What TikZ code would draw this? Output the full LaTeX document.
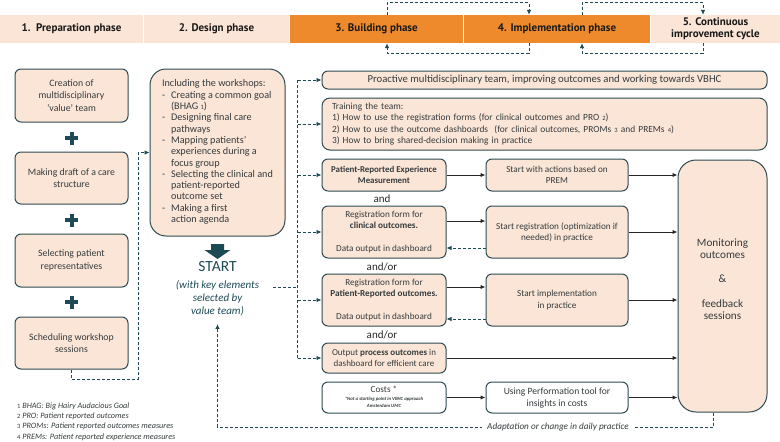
\documentclass[tikz,border=0pt]{standalone}
\usepackage{fontspec}
\setmainfont{Carlito}
\newfontfamily\hdrfont{PT Sans}
\usetikzlibrary{calc,arrows.meta}
\definecolor{peach}{HTML}{FBE5D6}
\definecolor{orng}{HTML}{EE8A2C}
\definecolor{bord}{HTML}{2D4B52}
\definecolor{teal}{HTML}{1E4A55}
\definecolor{txt}{HTML}{353B3D}
\newcommand{\fnum}[1]{{\upshape\fontsize{6.5}{6.5}\selectfont #1}}
\newcommand{\tinyf}{\fontsize{4.8}{6}\selectfont\bfseries\itshape}
\begin{document}
\begin{tikzpicture}[x=1pt,y=-1pt,
  phase/.style={inner sep=0pt, minimum height=28pt, align=center, font=\hdrfont\bfseries\fontsize{11}{12}\selectfont, text=black!90},
  box/.style={draw=bord, line width=1pt, fill=peach, rounded corners=6pt, align=center, inner sep=2pt, text=txt, font=\fontsize{9.2}{11.2}\selectfont},
  arr/.style={-{Latex[length=5pt,width=4.5pt]}, line width=1pt, draw=black!85},
  darr/.style={-{Latex[length=5pt,width=4.5pt]}, line width=0.8pt, draw=teal, dash pattern=on 3pt off 2pt},
  dln/.style={line width=0.8pt, draw=teal, dash pattern=on 3pt off 2pt},
  lbl/.style={inner sep=1pt, text=black!85}
]
\useasboundingbox (0,0) rectangle (780,442);

% ---------- header ----------
\node[phase, fill=peach, minimum width=143pt] (p1) at (71.5,29) {1.\ \ Preparation phase};
\node[phase, fill=peach, minimum width=145pt] (p2) at (216.5,29) {2. Design phase};
\node[phase, fill=orng, minimum width=173pt] (p3) at (376.5,29) {3. Building phase};
\node[phase, fill=orng, minimum width=186pt] (p4) at (557,29) {4. Implementation phase};
\node[phase, fill=peach, minimum width=129pt] (p5) at (715.5,29) {5. Continuous\\improvement cycle};

\draw[darr] ([xshift=10.5pt]p3.north) -- ++(0pt,12pt) -| ([xshift=-28pt]p4.north);
\draw[darr] ([xshift=-28pt]p4.south) -- ++(0pt,-10pt) -| ([xshift=10.5pt]p3.south);
\draw[darr] ([xshift=25pt]p4.north) -- ++(0pt,12pt) -| ([xshift=-12.5pt]p5.north);
\draw[darr] ([xshift=-12.5pt]p5.south) -- ++(0pt,-10pt) -| ([xshift=25pt]p4.south);

% ---------- preparation column ----------
\tikzset{lbox/.style={box, minimum width=113pt, font=\fontsize{9.8}{12.5}\selectfont}}
\node[lbox, minimum height=53pt] (l1) at (71.5,95.5) {Creation of\\multidisciplinary\\‘value’ team};
\node[lbox, minimum height=52pt] (l2) at (71.5,178) {Making draft of a care\\structure};
\node[lbox, minimum height=53pt] (l3) at (71.5,260.5) {Selecting patient\\representatives};
\node[lbox, minimum height=52pt] (l4) at (71.5,343) {Scheduling workshop\\sessions};
\foreach \yy in {138,220,302}{
  \fill[teal] (65,\yy-2) rectangle (78,\yy+2);
  \fill[teal] (69.5,\yy-6.5) rectangle (73.5,\yy+6.5);
}

% ---------- design column ----------
\node[box, minimum width=135pt, minimum height=167pt, rounded corners=16pt, font=\fontsize{10.2}{11.3}\selectfont] (des) at (217.5,152.5)
{\begin{tabular}{@{}l@{\hspace{6pt}}l@{}}
\multicolumn{2}{@{}l@{}}{Including the workshops:}\\
- & Creating a common goal\\
  & (BHAG \fnum{1})\\
- & Designing final care\\
  & pathways\\
- & Mapping patients’\\
  & experiences during a\\
  & focus group\\
- & Selecting the clinical and\\
  & patient-reported\\
  & outcome set\\
- & Making a first\\
  & action agenda
\end{tabular}};

\coordinate (lc) at (138,379);
\draw[darr] (l4.south) |- (lc) |- (des.west);

\fill[teal] (211,244) -- (224,244) -- (224,250) -- (230.5,250) -- (217.5,259) -- (204.5,250) -- (211,250) -- cycle;
\node[text=teal, font=\fontsize{15.5}{15.5}\selectfont, inner sep=0pt] (start) at (217.5,267) {START};
\node[text=teal, font=\itshape\fontsize{11}{13}\selectfont, align=center, inner sep=1pt] (sel) at (217.5,298) {(with key elements\\selected by\\value team)};

% ---------- building column ----------
\node[box, minimum width=445pt, minimum height=18pt, inner sep=0pt, font=\fontsize{10.7}{11}\selectfont] (proact) at (544.5,80) {Proactive multidisciplinary team, improving outcomes and working towards VBHC};
\node[box, minimum height=52pt, rounded corners=8pt, align=left, inner xsep=10pt, text width=425pt, font=\fontsize{9.4}{11.5}\selectfont] (train) at (544.5,124)
{Training the team:\\
1) How to use the registration forms (for clinical outcomes and PRO \fnum{2})\\
2) How to use the outcome dashboards\ \ (for clinical outcomes, PROMs \fnum{3} and PREMs \fnum{4})\\
3) How to bring shared-decision making in practice};

\tikzset{bbox/.style={box, minimum width=124pt}, mbox/.style={box, minimum width=142pt}}
\node[bbox, minimum height=32pt, font=\bfseries\fontsize{8.9}{11.5}\selectfont] (prem) at (384,175) {Patient-Reported Experience\\Measurement};
\node[bbox, minimum height=52pt] (clin) at (384,232) {Registration form for\\\textbf{clinical outcomes.}\\[11pt]Data output in dashboard};
\node[bbox, minimum height=52pt] (pro) at (384,300) {Registration form for\\\textbf{Patient-Reported outcomes.}\\[11pt]Data output in dashboard};
\node[bbox, minimum height=30pt, font=\fontsize{9}{11.5}\selectfont] (proc) at (384,358) {Output \textbf{process outcomes} in\\dashboard for efficient care};
\node[bbox, fill=white, minimum height=31pt] (cost) at (384,397.5)
{\begin{tabular}{@{}c@{}}Costs *\\[-2.5pt]{\tinyf *Not a starting point in VBHC approach}\\[-4.5pt]{\tinyf Amsterdam UMC}\end{tabular}};

\node[lbl, font=\fontsize{11}{11}\selectfont] (and1) at (382,199) {and};
\node[lbl, font=\fontsize{11}{11}\selectfont] (and2) at (382,267) {and/or};
\node[lbl, font=\fontsize{11}{11}\selectfont] (and3) at (382,335) {and/or};

% ---------- implementation column ----------
\node[mbox, minimum height=32pt] (act) at (557,175) {Start with actions based on\\PREM};
\node[mbox, minimum height=52pt] (reg) at (557,232) {Start registration (optimization if\\needed) in practice};
\node[mbox, minimum height=52pt] (impl) at (557,300) {Start implementation\\in practice};
\node[mbox, fill=white, minimum height=31pt, font=\fontsize{9.6}{12}\selectfont] (perf) at (557,397.5) {Using Performation tool for\\insights in costs};

\node[box, minimum width=89pt, minimum height=252pt, rounded corners=18pt, font=\fontsize{11.2}{12.3}\selectfont] (mon) at (722.5,286)
{\begin{tabular}{@{}c@{}}Monitoring\\outcomes\\[12.3pt]\&\\[12.3pt]feedback\\sessions\\[11pt]\end{tabular}};

% ---------- dashed bus from START ----------
\coordinate (sj) at (273,287);
\coordinate (bj) at (297.5,287);
\draw[dln] (sj) -- (bj);
\draw[dln] (bj |- proact.west) -- (bj |- proc.west);
\foreach \n in {proact,train,prem,clin,pro,proc}{
  \draw[darr] (bj |- \n.west) -- (\n.west);
}

% ---------- solid connectors ----------
\draw[arr] (prem.east) -- (act.west);
\draw[arr] (act.east) -- (act.east -| mon.west);
\draw[arr] ([yshift=11pt]clin.east) -- ([yshift=11pt]reg.west);
\draw[arr] (reg.east) -- (reg.east -| mon.west);
\draw[darr] ([yshift=-16pt]reg.west) -- ([yshift=-16pt]clin.east);
\draw[arr] ([yshift=13pt]pro.east) -- ([yshift=13pt]impl.west);
\draw[arr] (impl.east) -- (impl.east -| mon.west);
\draw[darr] ([yshift=-19pt]impl.west) -- ([yshift=-19pt]pro.east);
\draw[arr] (proc.east) -- (proc.east -| mon.west);
\draw[arr] (cost.east) -- (perf.west);
\draw[arr] (perf.east) -- (perf.east -| mon.west);

% ---------- feedback loop ----------
\coordinate (fbc) at (217.5,427);
\draw[darr] ([xshift=-9.5pt]mon.south) |- (fbc) -- ([yshift=-7pt]sel.south);
\node[fill=white, inner xsep=5pt, inner ysep=1pt, text=txt, font=\itshape\fontsize{9.2}{10}\selectfont] (adapt) at (558,427) {Adaptation or change in daily practice};

% ---------- footnotes ----------
\node[anchor=west, align=left, inner sep=0pt, text=txt, font=\itshape\fontsize{8.2}{10.3}\selectfont] (fn) at (17,421.5)
{\fnum{1} BHAG: Big Hairy Audacious Goal\\
\fnum{2} PRO: Patient reported outcomes\\
\fnum{3} PROMs: Patient reported outcomes measures\\
\fnum{4} PREMs: Patient reported experience measures};
\end{tikzpicture}
\end{document}
